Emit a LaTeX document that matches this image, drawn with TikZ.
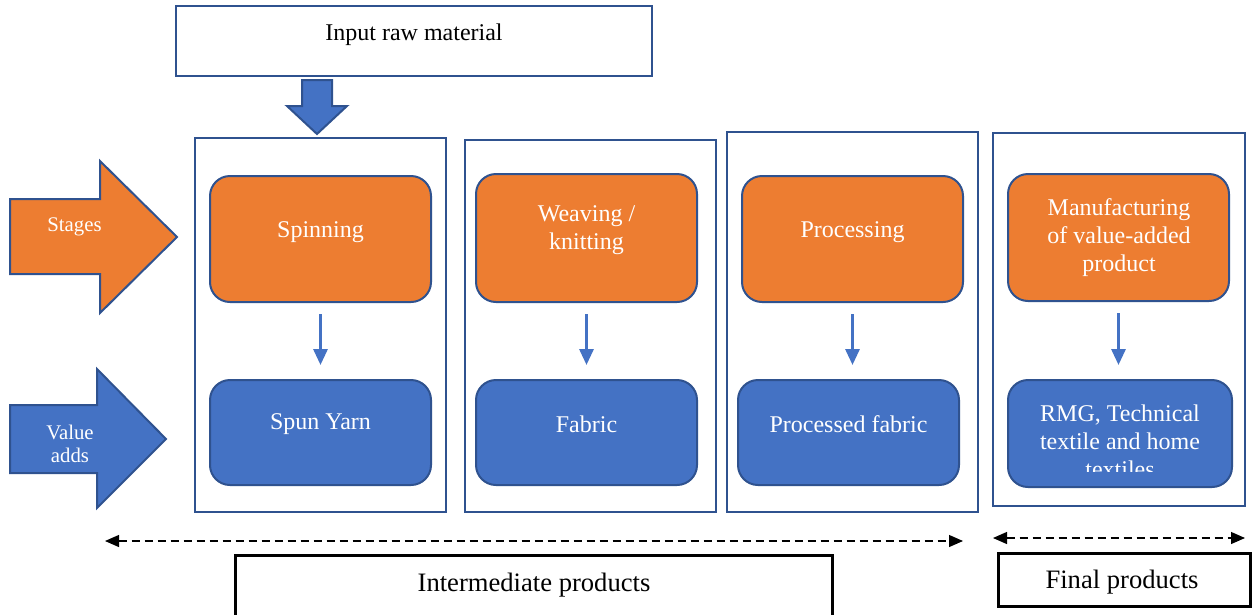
\documentclass[tikz,border=0pt]{standalone}
\usepackage{fontspec}
\setmainfont{Liberation Serif}
\usetikzlibrary{arrows.meta}
\definecolor{accorange}{HTML}{ED7D31}
\definecolor{accblue}{HTML}{4472C4}
\definecolor{edgeblue}{HTML}{2F528F}
\begin{document}
\begin{tikzpicture}[x=1pt,y=-1pt,
  panel/.style={draw=edgeblue, line width=2pt, fill=white, inner sep=0pt},
  stagebox/.style={draw=edgeblue, line width=2pt, fill=accorange, rounded corners=20pt, inner sep=0pt},
  valuebox/.style={draw=edgeblue, line width=2pt, fill=accblue, rounded corners=20pt, inner sep=0pt},
  labelbox/.style={draw=black, line width=3pt, fill=white, inner sep=0pt},
  wtext/.style={text=white, font=\fontsize{24}{28}\selectfont, align=center, inner sep=0pt},
  ktext/.style={text=black, font=\fontsize{24}{28}\selectfont, align=center, inner sep=0pt},
  btext/.style={text=black, font=\fontsize{26.6}{30}\selectfont, align=center, inner sep=0pt},
  sidetext/.style={text=white, font=\fontsize{20.8}{23}\selectfont, align=center, inner sep=0pt},
  blockarrow/.style={draw=edgeblue, line width=2pt, line join=miter},
  flowarrow/.style={draw=accblue, line width=3pt, -{Triangle[length=16pt,width=14pt]},
    shorten <=11pt, shorten >=14pt},
  spanline/.style={draw=black, line width=1.2pt, dash pattern=on 8pt off 5pt,
    {Triangle[length=14pt,width=12pt]}-{Triangle[length=14pt,width=12pt]}}
]
\useasboundingbox (0,0) rectangle (1253,614);

% input box
\node[panel, minimum width=476pt, minimum height=70pt] (input) at (414,41) {};
\node[ktext] (inputtext) at (414,35) {Input raw material};

% feed arrow into the first stage
\path[blockarrow, fill=accblue] (302,80) -- (332,80) -- (332,106) -- (347,106)
  -- (317,134) -- (287,106) -- (302,106) -- cycle;

% side arrows
\path[blockarrow, fill=accorange] (10,199) -- (100,199) -- (100,161) -- (177,237)
  -- (100,313) -- (100,274) -- (10,274) -- cycle;
\node[sidetext] (stagestext) at (74.5,227) {Stages};
\path[blockarrow, fill=accblue] (10,405) -- (97,405) -- (97,369) -- (166,439)
  -- (97,508) -- (97,473) -- (10,473) -- cycle;
\node[sidetext] (valuetext) at (70,444) {Value\\adds};

% stage columns
\node[panel, minimum width=251pt, minimum height=374pt] (c1) at (320.5,325) {};
\node[panel, minimum width=251pt, minimum height=372pt] (c2) at (590.5,326) {};
\node[panel, minimum width=251pt, minimum height=380pt] (c3) at (852.5,322) {};
\node[panel, minimum width=252pt, minimum height=373pt] (c4) at (1119,319.5) {};

% stages
\node[stagebox, minimum width=221pt, minimum height=126pt] (o1) at (320.5,239) {};
\node[stagebox, minimum width=221pt, minimum height=128pt] (o2) at (586.5,238) {};
\node[stagebox, minimum width=221pt, minimum height=126pt] (o3) at (852.5,239) {};
\node[stagebox, minimum width=221pt, minimum height=127pt] (o4) at (1118.5,237.5) {};
\node[wtext] (o1t) at (320.5,232) {Spinning};
\node[wtext] (o2t) at (586.5,230) {Weaving /\\knitting};
\node[wtext] (o3t) at (852.5,232) {Processing};
\node[wtext] (o4t) at (1119,238) {Manufacturing\\of value-added\\product};

% value adds
\node[valuebox, minimum width=221pt, minimum height=105pt] (b1) at (320.5,432.5) {};
\node[valuebox, minimum width=221pt, minimum height=105pt] (b2) at (586.5,432.5) {};
\node[valuebox, minimum width=221pt, minimum height=105pt] (b3) at (848.5,432.5) {};
\node[valuebox, minimum width=224pt, minimum height=107pt] (b4) at (1120,433.5) {};
\node[wtext] (b1t) at (320.5,424) {Spun Yarn};
\node[wtext] (b2t) at (586.5,424) {Fabric};
\node[wtext] (b3t) at (848.5,424) {Processed fabric};
\begin{scope}
  \clip (1008,380) rectangle (1232,471);
  \node[wtext] (b4t) at (1120,441) {RMG, Technical\\textile and home\\textiles};
\end{scope}

% stage to value-add arrows
\draw[flowarrow] (o1.south) -- (o1.south |- b1.north);
\draw[flowarrow] (o2.south) -- (o2.south |- b2.north);
\draw[flowarrow] (o3.south) -- (o3.south |- b3.north);
\draw[flowarrow] (o4.south) -- (o4.south |- b4.north);

% spans
\coordinate (il) at (105,541);
\coordinate (ir) at (963,541);
\coordinate (fl) at (993,538);
\coordinate (fr) at (1245,538);
\draw[spanline] (il) -- (ir);
\draw[spanline] (fl) -- (fr);

% span labels
\node[labelbox, minimum width=597pt, minimum height=70pt] (inter) at (533.5,590) {};
\node[btext] (intertext) at (534,585) {Intermediate products};
\node[labelbox, minimum width=252pt, minimum height=53pt] (final) at (1124,579.5) {};
\node[btext] (finaltext) at (1122,582) {Final products};
\end{tikzpicture}
\end{document}
